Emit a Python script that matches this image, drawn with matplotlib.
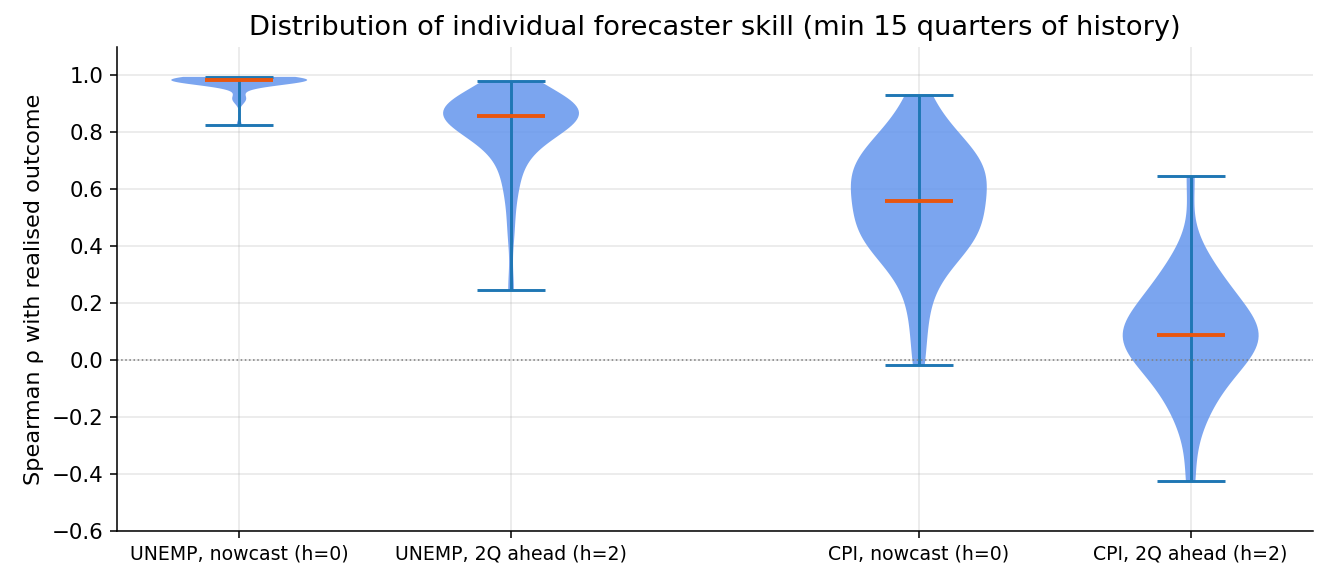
import numpy as np
import matplotlib
matplotlib.use('Agg')
import matplotlib.pyplot as plt

# estimated per-forecaster Spearman rho
labels = ['UNEMP, nowcast (h=0)', 'UNEMP, 2Q ahead (h=2)',
          'CPI, nowcast (h=0)', 'CPI, 2Q ahead (h=2)']
positions = [0, 1, 2.5, 3.5]

unemp_h0 = [0.825, 0.91, 0.918, 0.925, 0.96, 0.965, 0.97, 0.972, 0.975, 0.976,
            0.978, 0.979, 0.98, 0.981, 0.982, 0.982, 0.983, 0.984, 0.984, 0.985,
            0.985, 0.986, 0.986, 0.987, 0.987, 0.988, 0.988, 0.989, 0.99, 0.99,
            0.991, 0.992, 0.993, 0.994, 0.995]
unemp_h2 = [0.245, 0.45, 0.57, 0.63, 0.68, 0.72, 0.75, 0.77, 0.79, 0.80,
            0.81, 0.82, 0.83, 0.835, 0.84, 0.845, 0.85, 0.855, 0.86, 0.865,
            0.868, 0.872, 0.876, 0.88, 0.884, 0.888, 0.892, 0.896, 0.90, 0.905,
            0.91, 0.915, 0.92, 0.93, 0.945, 0.98]
cpi_h0 = [-0.017, 0.10, 0.20, 0.27, 0.32, 0.36, 0.38, 0.40, 0.41, 0.42,
          0.43, 0.44, 0.45, 0.46, 0.47, 0.49, 0.51, 0.53, 0.545, 0.555,
          0.558, 0.57, 0.59, 0.61, 0.63, 0.64, 0.65, 0.66, 0.67, 0.68,
          0.69, 0.70, 0.71, 0.72, 0.73, 0.75, 0.77, 0.80, 0.83, 0.87, 0.933]
cpi_h2 = [-0.425, -0.24, -0.18, -0.14, -0.10, -0.07, -0.05, -0.03, -0.01, 0.01,
          0.03, 0.04, 0.05, 0.06, 0.07, 0.08, 0.089, 0.095, 0.10, 0.11,
          0.12, 0.13, 0.15, 0.17, 0.19, 0.21, 0.23, 0.25, 0.27, 0.30,
          0.33, 0.38, 0.647]

data = [unemp_h0, unemp_h2, cpi_h0, cpi_h2]

fig = plt.figure(figsize=(1328/140, 580/140), dpi=140)
ax = fig.add_axes([0.088, 0.0845, 0.9007, 0.8345])

vp = ax.violinplot(data, positions=positions, widths=0.5, showmedians=True)
for body in vp['bodies']:
    body.set_facecolor('cornflowerblue')
    body.set_edgecolor('none')
    body.set_alpha(0.85)
for key in ['cbars', 'cmins', 'cmaxes']:
    vp[key].set_color('#1f77b4')
    vp[key].set_linewidth(1.5)
vp['cmedians'].set_color('#e8560f')
vp['cmedians'].set_linewidth(2)

ax.axhline(0, color='gray', linestyle=':', linewidth=0.8)
ax.set_xticks(positions)
ax.set_xticklabels(labels, fontsize=9.7)
ax.set_xlim(-0.45, 3.95)
ax.set_ylim(-0.6, 1.1)
ax.tick_params(axis='y', labelsize=11)
ax.set_ylabel('Spearman ρ with realised outcome', fontsize=11.5)
ax.set_title('Distribution of individual forecaster skill (min 15 quarters of history)',
             fontsize=14)
ax.grid(True, alpha=0.3)
ax.set_axisbelow(True)
ax.spines['top'].set_visible(False)
ax.spines['right'].set_visible(False)

fig.savefig('out.png', dpi=140)
